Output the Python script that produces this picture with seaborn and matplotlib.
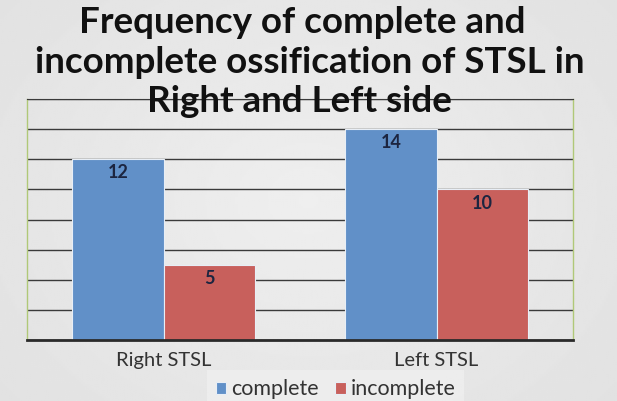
import matplotlib.pyplot as plt
import numpy as np
import pandas as pd
import seaborn as sns

sides = ["Right STSL", "Left STSL"]
complete = [12, 14]
incomplete = [5, 10]
title_lines = ["Frequency of complete and",
               "incomplete ossification of STSL in",
               "Right and Left side"]

df = pd.DataFrame({
    "Side": sides * 2,
    "Count": complete + incomplete,
    "Type": ["complete"] * 2 + ["incomplete"] * 2,
})

sns.set_style("white")
plt.rcParams["font.family"] = ["Lato", "DejaVu Sans"]

fig = plt.figure(figsize=(6.17, 4.01), dpi=100)

# soft grey background, lighter in the middle
bg = fig.add_axes([0, 0, 1, 1], zorder=-10)
yy, xx = np.mgrid[-1:1:200j, -1:1:300j]
shade = 0.935 - 0.05 * np.clip(np.sqrt(xx ** 2 * 0.6 + yy ** 2 * 0.4), 0, 1)
bg.imshow(shade, cmap="gray", vmin=0, vmax=1, aspect="auto", extent=[0, 1, 0, 1])
bg.axis("off")

ax = fig.add_axes([27 / 617, 1 - 340 / 401, 546 / 617, 241 / 401])
ax.patch.set_alpha(0)

sns.barplot(
    data=df, x="Side", y="Count", hue="Type",
    palette=["#6190c8", "#c8605c"], width=0.667, saturation=1,
    ax=ax, zorder=2,
)
for p in ax.patches:
    p.set_edgecolor("#e8eef6")
    p.set_linewidth(0.8)

for c in ax.containers:
    ax.bar_label(c, label_type="edge", padding=-16, fontsize=13,
                 fontweight="bold", color="#1c2540")

ax.set_ylim(0, 16)
ax.set_xlim(-0.5, 1.5)
ax.set_yticks(range(0, 17, 2))
ax.yaxis.grid(True, color="#3a3a3a", linewidth=1.0, zorder=1)
ax.set_axisbelow(True)
ax.tick_params(axis="y", left=False, labelleft=False)
ax.tick_params(axis="x", bottom=False, labelsize=14.5, colors="#333333", pad=5)
ax.set_xlabel("")
ax.set_ylabel("")
for s in ["left", "right"]:
    ax.spines[s].set_color("#b0c878")
    ax.spines[s].set_linewidth(1)
ax.spines["top"].set_color("#3a3a3a")
ax.spines["bottom"].set_color("#2a2a2a")
ax.spines["bottom"].set_linewidth(2)

leg = ax.legend(loc="center", bbox_to_anchor=(0.565, -0.205), ncol=2,
                frameon=True, fontsize=15.5, handlelength=0.5, handleheight=0.5,
                handletextpad=0.2, columnspacing=0.8, borderpad=0.12)
leg.get_frame().set_facecolor("#efefef")
leg.get_frame().set_edgecolor("none")
leg.get_frame().set_boxstyle("square")
for t in leg.get_texts():
    t.set_color("#333333")

for i, (line, base) in enumerate(zip(title_lines, [33, 73, 112])):
    xc = [302, 310, 299][i]
    fig.text(xc / 617, 1 - base / 401, line, ha="center", va="baseline",
             fontsize=26.5, fontweight="bold", color="#111111", zorder=5)

fig.savefig("out.png", dpi=100)
